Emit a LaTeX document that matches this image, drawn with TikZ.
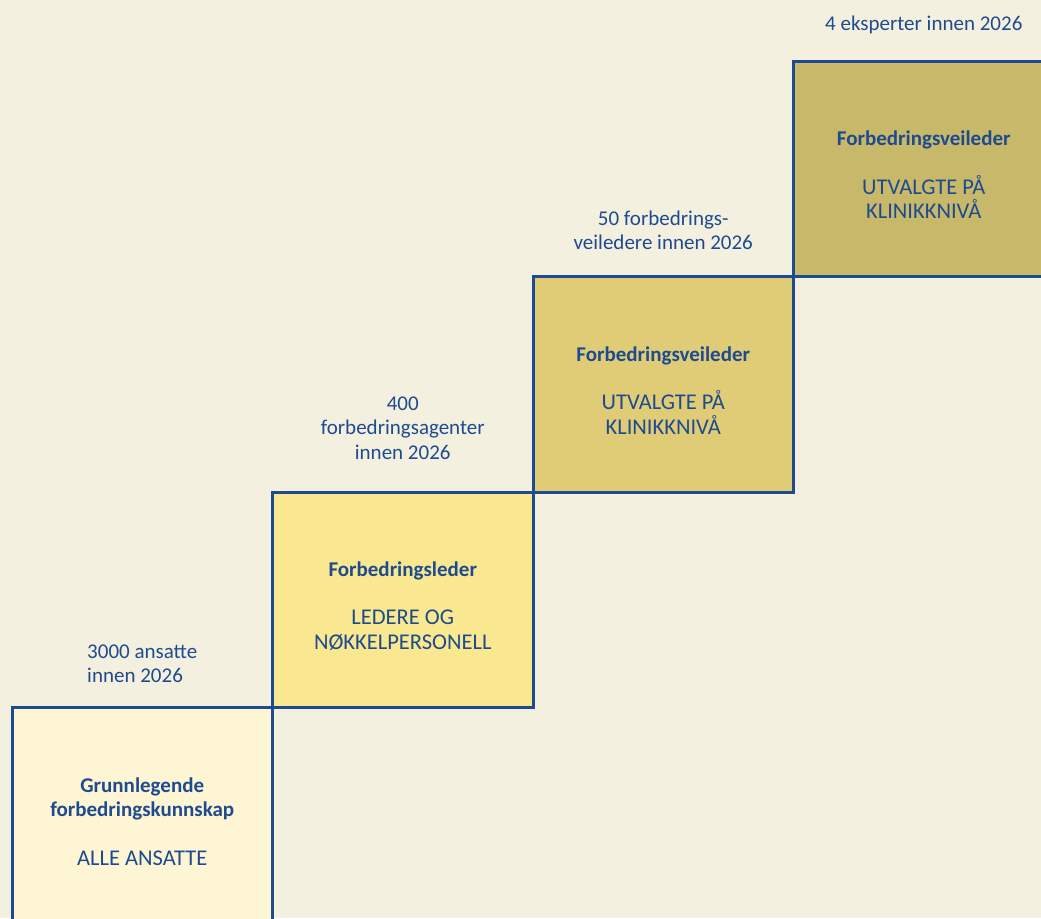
\documentclass[tikz,border=0pt]{standalone}
\usepackage{fontspec}
\setmainfont{Carlito}
\usetikzlibrary{positioning}
\definecolor{bgcream}{RGB}{244,240,223}
\definecolor{stepblue}{RGB}{30,75,143}
\definecolor{levelone}{RGB}{253,245,211}
\definecolor{leveltwo}{RGB}{249,232,143}
\definecolor{levelthree}{RGB}{224,204,118}
\definecolor{levelfour}{RGB}{200,184,106}
\newcommand\steptitle[1]{\rule{0pt}{26pt}\textbf{#1}}
\newcommand\steprole[1]{{\fontsize{22.5}{24.5}\selectfont #1}}

\begin{document}
\begin{tikzpicture}[
  x=1pt, y=1pt,
  stepbox/.style={rectangle, draw=stepblue, line width=3pt, minimum width=260.5pt, minimum height=215.5pt, inner sep=0pt, outer sep=0pt, align=center, text=stepblue, font=\fontsize{21}{24.5}\selectfont},
  target/.style={align=center, inner sep=0pt, text=stepblue, font=\fontsize{21}{24.5}\selectfont},
]
  \fill[bgcream] (0,0) rectangle (1041,918);
  \useasboundingbox (0,0) rectangle (1041,918);

  % Steps, bottom left to top right
  \node[stepbox, fill=levelone] (basic) at (142.25,102.25) {\steptitle{Grunnlegende}\\\textbf{forbedringskunnskap}\\[24pt]\steprole{ALLE ANSATTE}};
  \node[stepbox, fill=leveltwo, anchor=south west] (leader) at (basic.north east) {\steptitle{Forbedringsleder}\\[24pt]\steprole{LEDERE OG}\\\steprole{NØKKELPERSONELL}};
  \node[stepbox, fill=levelthree, anchor=south west] (mentor) at (leader.north east) {\steptitle{Forbedringsveileder}\\[24pt]\steprole{UTVALGTE PÅ}\\\steprole{KLINIKKNIVÅ}};
  \node[stepbox, fill=levelfour, anchor=south west] (expert) at (mentor.north east) {\steptitle{Forbedringsveileder}\\[24pt]\steprole{UTVALGTE PÅ}\\\steprole{KLINIKKNIVÅ}};

  % Targets
  \node[target, align=left, above=25pt of basic] (basicgoal) {3000 ansatte\\innen 2026};
  \node[target, above=33pt of leader] (leadergoal) {400\\forbedringsagenter\\innen 2026};
  \node[target, above=27pt of mentor] (mentorgoal) {50 forbedrings-\\veiledere innen 2026};
  \node[target, above=27pt of expert] (expertgoal) {4 eksperter innen 2026};
\end{tikzpicture}
\end{document}
